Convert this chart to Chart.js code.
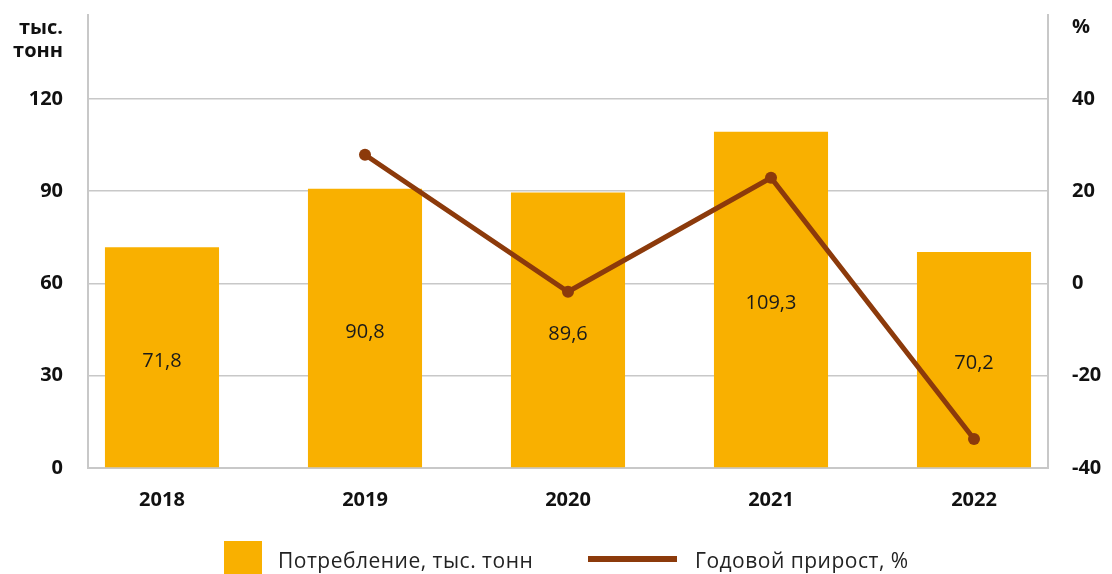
<!DOCTYPE html>
<html lang="ru">
<head>
<meta charset="utf-8">
<title>Потребление</title>
<script src="https://cdn.jsdelivr.net/npm/chart.js@4.4.1/dist/chart.umd.min.js"></script>
<style>
  html, body { margin: 0; padding: 0; background: #fff; overflow: hidden; }
  #wrap { width: 1112px; height: 574px; overflow: hidden; }
  canvas { display: block; }
</style>
</head>
<body>
<div id="wrap"><canvas id="chart" width="1112" height="600"></canvas></div>
<script>
// Years, consumption (thousand tonnes) and yearly growth (%)
const years = ['2018', '2019', '2020', '2021', '2022'];
const consumption = [71.8, 90.8, 89.6, 109.3, 70.2];
const growth = [null, 27.9, -1.8, 22.9, -33.7];
const leftTicks = [0, 30, 60, 90, 120];
const rightTicks = [-40, -20, 0, 20, 40];

const barColor = '#F9B000';
const lineColor = '#8C3A0B';
const gridColor = '#C8C8C8';
const fontName = '"Open Sans", sans-serif';

function fmt(v) {
    return v.toFixed(1).replace('.', ',');
}

// no extra room above/below the plot for the end labels
function noPad(scale) {
    scale.paddingTop = 0;
    scale.paddingBottom = 0;
}

// Value labels inside the bars, axis captions and the legend
const extras = {
    id: 'extras',
    afterDatasetDraw(chart, args) {
        if (args.index !== 0) return;
        const ctx = chart.ctx;
        ctx.save();
        ctx.font = '20px ' + fontName;
        ctx.fillStyle = '#1a1a1a';
        ctx.textAlign = 'center';
        ctx.textBaseline = 'middle';
        args.meta.data.forEach(function(bar, i) {
            const mid = (bar.y + bar.base) / 2 + 4;
            ctx.fillText(fmt(consumption[i]), bar.x, mid);
        });
        ctx.restore();
    },
    afterDraw(chart) {
        const ctx = chart.ctx;
        ctx.save();
        ctx.fillStyle = '#111';
        ctx.font = 'bold 20px ' + fontName;
        ctx.textBaseline = 'middle';
        ctx.textAlign = 'right';
        ctx.fillText('тыс.', 63, 28);
        ctx.fillText('тонн', 63, 51);
        ctx.textAlign = 'left';
        ctx.fillText('%', 1072, 27);

        // legend
        ctx.fillStyle = barColor;
        ctx.fillRect(224, 541, 38, 38);
        ctx.strokeStyle = lineColor;
        ctx.lineWidth = 6;
        ctx.beginPath();
        ctx.moveTo(588, 559);
        ctx.lineTo(677, 559);
        ctx.stroke();
        ctx.fillStyle = '#222';
        ctx.font = '21px ' + fontName;
        ctx.letterSpacing = '0.5px';
        ctx.fillText('Потребление, тыс. тонн', 278, 562);
        ctx.fillText('Годовой прирост, %', 695, 562);
        ctx.restore();
    }
};

const ctx = document.getElementById('chart').getContext('2d');
new Chart(ctx, {
    type: 'bar',
    data: {
        datasets: [{
            label: 'Потребление, тыс. тонн',
            data: consumption.map(function(v, i) { return { x: i, y: v }; }),
            backgroundColor: barColor,
            barPercentage: 0.562,
            categoryPercentage: 1,
            yAxisID: 'y',
            order: 1
        }, {
            type: 'line',
            label: 'Годовой прирост, %',
            data: growth.map(function(v, i) { return { x: i, y: v }; }),
            borderColor: lineColor,
            backgroundColor: lineColor,
            borderWidth: 5,
            pointRadius: 6,
            pointHoverRadius: 6,
            pointBackgroundColor: lineColor,
            pointBorderWidth: 0,
            yAxisID: 'y1',
            order: 0
        }]
    },
    options: {
        responsive: false,
        animation: false,
        devicePixelRatio: 1,
        layout: { padding: { top: 15, bottom: 72, left: 0, right: 0 } },
        plugins: {
            legend: { display: false },
            tooltip: { enabled: false }
        },
        scales: {
            x: {
                type: 'linear',
                offset: false,
                min: -0.3645,
                max: 4.3645,
                afterBuildTicks: function(scale) {
                    scale.ticks = years.map(function(_, i) { return { value: i }; });
                },
                afterFit: function(scale) {
                    scale.height = 60;
                    scale.paddingLeft = 0;
                    scale.paddingRight = 0;
                },
                grid: { display: false, drawTicks: false, offset: false },
                border: { display: true, color: gridColor, width: 2 },
                ticks: {
                    padding: 20,
                    color: '#111',
                    font: { family: fontName, size: 20, weight: 'bold' },
                    callback: function(v) { return years[v]; }
                }
            },
            y: {
                position: 'left',
                min: 0,
                max: 147.3,
                afterBuildTicks: function(scale) {
                    scale.ticks = leftTicks.map(function(v) { return { value: v }; });
                },
                afterFit: function(scale) { scale.width = 88; noPad(scale); },
                grid: { color: gridColor, lineWidth: 1.5, drawTicks: false },
                border: { display: true, color: gridColor, width: 2 },
                ticks: {
                    padding: 25,
                    color: '#111',
                    font: { family: fontName, size: 20, weight: 'bold' }
                }
            },
            y1: {
                position: 'right',
                min: -40,
                max: 58.2,
                afterBuildTicks: function(scale) {
                    scale.ticks = rightTicks.map(function(v) { return { value: v }; });
                },
                afterFit: function(scale) { scale.width = 64; noPad(scale); },
                grid: { display: false, drawTicks: false },
                border: { display: true, color: gridColor, width: 2 },
                ticks: {
                    padding: 24,
                    color: '#111',
                    font: { family: fontName, size: 20, weight: 'bold' }
                }
            }
        }
    },
    plugins: [extras]
});
</script>
</body>
</html>
